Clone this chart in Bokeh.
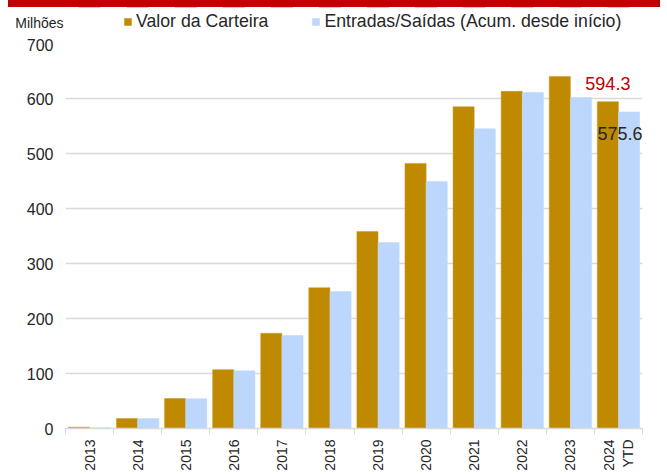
import math
from bokeh.plotting import figure
from bokeh.models import (Legend, LegendItem, FixedTicker, LabelSet,
                          ColumnDataSource, Div)
from bokeh.layouts import column
from bokeh.embed import file_html
from bokeh.resources import INLINE
from bokeh.core.properties import value
from bokeh.transform import dodge

# ---- data ----
years = ["2013", "2014", "2015", "2016", "2017", "2018", "2019", "2020",
         "2021", "2022", "2023", "2024\nYTD"]
valor_carteira = [2.5, 18, 54.5, 107, 173, 256, 358, 482, 585, 613, 640, 594.3]
entradas_saidas = [1.5, 18, 54, 105, 169, 249, 338, 449, 545, 611, 602, 575.6]
y_ticks = [0, 100, 200, 300, 400, 500, 600, 700]
series_names = ["Valor da Carteira", "Entradas/Saídas (Acum. desde início)"]
unit_label = "Milhões"

GOLD = "#BF8A00"
BLUE = "#BDD7FC"
RED = "#C00000"
TXT = "#262626"
GRID = "#D9D9D9"
FONT = "Liberation Sans"
NARROW = "'Liberation Sans Narrow', 'Liberation Sans', sans-serif"

n = len(years)
centers = [i + 0.5 for i in range(n)]
src = ColumnDataSource(dict(x=centers, valor=valor_carteira, entr=entradas_saidas))

bar_style1 = dict(fill_color=GOLD, line_color="#C99A20", line_width=0.5)
bar_style2 = dict(fill_color=BLUE, line_color=BLUE, line_width=0.5)

# ---------------- main chart ----------------
p = figure(width=667, height=436, x_range=(0, n), y_range=(0, 700),
           output_backend="svg", toolbar_location=None,
           min_border_left=65, min_border_right=25, min_border_top=5,
           min_border_bottom=46)
p.outline_line_color = None
p.background_fill_color = "white"
p.border_fill_color = "white"

p.vbar(x=dodge("x", -0.22), top="valor", width=0.44, source=src, **bar_style1)
p.vbar(x=dodge("x", 0.22), top="entr", width=0.44, source=src, **bar_style2)

p.yaxis.ticker = FixedTicker(ticks=y_ticks)
p.yaxis.axis_line_color = None
p.yaxis.major_tick_line_color = None
p.yaxis.minor_tick_line_color = None
p.yaxis.major_tick_out = 0
p.yaxis.major_label_standoff = 12
p.yaxis.major_label_text_font = FONT
p.yaxis.major_label_text_font_size = "16px"
p.yaxis.major_label_text_color = TXT

p.xaxis.ticker = FixedTicker(ticks=centers, minor_ticks=list(range(n + 1)))
p.xaxis.major_label_overrides = {c: y for c, y in zip(centers, years)}
p.xaxis.major_label_orientation = math.pi / 2
p.xaxis.major_tick_line_color = None
p.xaxis.major_tick_out = 0
p.xaxis.major_tick_in = 0
p.xaxis.minor_tick_line_color = GRID
p.xaxis.minor_tick_out = 6
p.xaxis.minor_tick_in = 0
p.xaxis.axis_line_color = GRID
p.xaxis.axis_line_width = 1.5
p.xaxis.major_label_standoff = 5
p.xaxis.major_label_text_font = NARROW
p.xaxis.major_label_text_font_size = "14px"
p.xaxis.major_label_text_color = TXT
p.xaxis.major_label_text_line_height = 1.15

p.xgrid.grid_line_color = None
p.ygrid.ticker = FixedTicker(ticks=y_ticks)
p.ygrid.grid_line_color = GRID
p.ygrid.grid_line_width = 1.5

last = n - 1
lab_src1 = ColumnDataSource(dict(x=[centers[last] - 0.22], y=[valor_carteira[last]],
                                 t=[f"{valor_carteira[last]:.1f}"]))
lab_src2 = ColumnDataSource(dict(x=[n], y=[entradas_saidas[last]],
                                 t=[f"{entradas_saidas[last]:.1f}"]))
p.add_layout(LabelSet(x="x", y="y", text="t", source=lab_src1, text_align="center",
                      text_baseline="alphabetic", y_offset=12, text_color=RED,
                      text_font=value(FONT), text_font_size="18px"))
p.add_layout(LabelSet(x="x", y="y", text="t", source=lab_src2, text_align="right",
                      text_baseline="alphabetic", y_offset=-28, text_color=TXT,
                      text_font=value(FONT), text_font_size="18px"))

# ---------------- header band: unit label (as axis label) + legend ----------------
h = figure(width=667, height=31, x_range=(0, n), y_range=(-2, -1),
           output_backend="svg", toolbar_location=None,
           min_border_left=65, min_border_right=25, min_border_top=0,
           min_border_bottom=0)
h.xaxis.visible = False
h.grid.visible = False
h.outline_line_color = None
h.border_fill_color = "white"
h.background_fill_color = "white"
# same series, outside the header's visible range: only used for legend swatches
k1 = h.vbar(x="x", top="valor", width=0.44, source=src, **bar_style1)
k2 = h.vbar(x="x", top="entr", width=0.44, source=src, **bar_style2)

h.yaxis.ticker = FixedTicker(ticks=[-1.5])
h.yaxis.major_label_overrides = {-1.5: unit_label}
h.yaxis.axis_line_color = None
h.yaxis.major_tick_line_color = None
h.yaxis.minor_tick_line_color = None
h.yaxis.major_tick_out = 0
h.yaxis.major_label_standoff = 2
h.yaxis.major_label_text_font = FONT
h.yaxis.major_label_text_font_size = "14px"
h.yaxis.major_label_text_color = TXT

legend = Legend(items=[LegendItem(label=series_names[0], renderers=[k1]),
                       LegendItem(label=series_names[1], renderers=[k2])],
                orientation="horizontal", location=(58, 6),
                glyph_width=9, glyph_height=9, label_standoff=4, spacing=43,
                padding=0, margin=0, border_line_color=None,
                background_fill_alpha=0, label_height=18,
                label_text_font=FONT, label_text_font_size="17.7px",
                label_text_color=TXT)
h.add_layout(legend, "center")

strip = Div(text="", width=652, height=7, margin=(0, 0, 0, 8),
            styles={"background-color": RED})

layout = column(strip, h, p, spacing=0)
open("out.html", "w").write(file_html(layout, INLINE))
